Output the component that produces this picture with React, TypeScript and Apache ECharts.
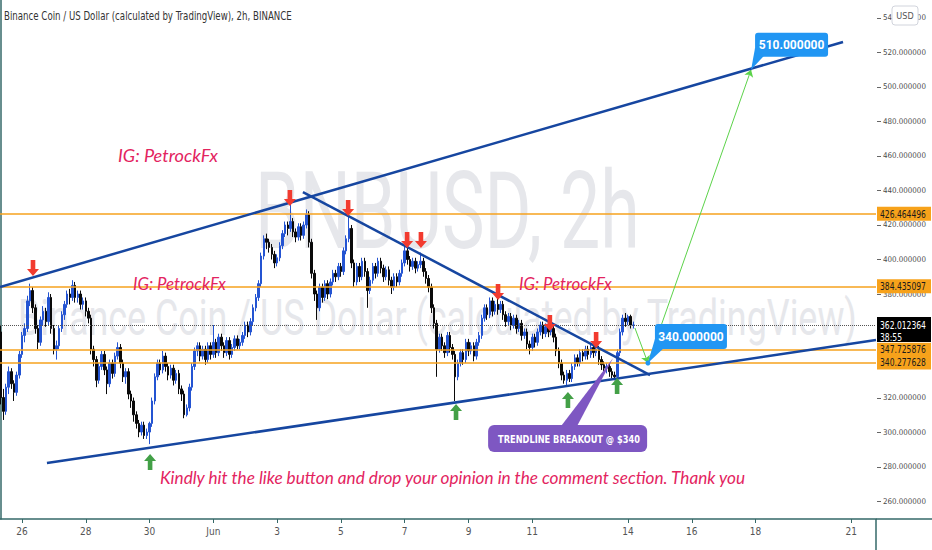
import React, { useEffect, useRef } from 'react';
import * as echarts from 'echarts';

const W = 932;
const H = 550;

// x values are 2h candle indices (candle 0 = 25 May 08:00)
const dateTicks = [8, 32, 56, 80, 104, 128, 152, 176, 200, 236, 260, 284, 320];
const dateLabels = ['26', '28', '30', 'Jun', '3', '5', '7', '9', '11', '14', '16', '18', '21'];
const priceTicks = [260, 280, 300, 320, 340, 360, 380, 400, 420, 440, 460, 480, 500, 520, 540];

// [open, close, low, high]
const candles: number[][] = [
  [358, 320, 316, 362], [320, 312, 307, 325], [312, 326, 310, 328], [326, 335, 322, 338], [335, 328, 325, 337],
  [328, 323, 318, 330], [323, 333, 321, 335], [333, 345, 331, 347], [345, 356, 343, 358], [356, 360, 352, 363],
  [360, 376, 358, 379], [376, 382, 373, 386], [382, 372, 369, 384], [372, 360, 357, 374], [360, 352, 348, 362],
  [352, 365, 350, 367], [365, 370, 362, 373], [370, 364, 361, 372], [364, 378, 362, 381], [378, 360, 357, 380],
  [360, 348, 345, 362], [348, 350, 342, 353], [350, 360, 348, 362], [360, 368, 358, 370], [368, 374, 365, 376],
  [374, 380, 372, 382], [380, 378, 374, 383], [378, 385, 376, 388], [385, 378, 375, 387], [378, 380, 375, 382],
  [380, 374, 371, 382], [374, 376, 371, 378], [376, 370, 367, 378], [370, 366, 363, 372], [366, 348, 345, 368],
  [348, 342, 338, 350], [342, 330, 326, 344], [330, 338, 328, 340], [338, 345, 336, 347], [345, 336, 333, 347],
  [336, 328, 322, 338], [328, 340, 326, 342], [340, 334, 331, 342], [334, 344, 332, 346], [344, 349, 342, 352],
  [349, 340, 337, 351], [340, 332, 329, 342], [332, 335, 328, 337], [335, 322, 319, 337], [322, 318, 314, 324],
  [318, 310, 306, 320], [310, 305, 302, 312], [305, 300, 297, 307], [300, 304, 298, 306], [304, 298, 296, 306],
  [298, 300, 296, 302], [300, 305, 293, 306], [305, 318, 303, 320], [318, 332, 316, 334], [332, 340, 330, 342],
  [340, 336, 333, 342], [336, 344, 334, 347], [344, 338, 335, 346], [338, 333, 330, 340], [333, 337, 331, 339],
  [337, 330, 327, 339], [330, 334, 328, 336], [334, 325, 322, 336], [325, 322, 318, 327], [322, 310, 308, 324],
  [310, 314, 309, 316], [314, 326, 312, 328], [326, 338, 324, 340], [338, 347, 336, 349], [347, 350, 344, 352],
  [350, 344, 341, 352], [344, 348, 342, 350], [348, 342, 339, 350], [342, 350, 340, 352], [350, 345, 342, 352],
  [345, 352, 343, 362], [352, 346, 343, 354], [346, 355, 344, 357], [355, 350, 347, 357], [350, 346, 343, 352],
  [346, 353, 344, 355], [353, 345, 342, 355], [345, 349, 343, 351], [349, 354, 347, 356], [354, 350, 348, 356],
  [350, 352, 348, 354], [352, 356, 350, 358], [356, 362, 354, 364], [362, 358, 355, 364], [358, 364, 356, 366],
  [364, 372, 362, 374], [372, 378, 370, 380], [378, 386, 376, 388], [386, 402, 384, 404], [402, 412, 400, 414],
  [412, 410, 406, 415], [410, 407, 404, 412], [407, 403, 400, 409], [403, 398, 395, 405], [398, 401, 396, 403],
  [401, 408, 399, 410], [408, 415, 406, 417], [415, 420, 413, 422], [420, 418, 414, 422], [418, 422, 416, 433],
  [422, 416, 413, 424], [416, 413, 410, 418], [413, 419, 411, 421], [419, 414, 411, 421], [414, 420, 412, 422],
  [420, 426, 418, 429], [426, 410, 407, 428], [410, 392, 389, 412], [392, 380, 376, 394], [380, 372, 365, 382],
  [372, 384, 370, 386], [384, 378, 375, 386], [378, 386, 376, 388], [386, 380, 377, 388], [380, 387, 378, 389],
  [387, 392, 385, 394], [392, 390, 387, 394], [390, 396, 388, 398], [396, 393, 390, 398], [393, 405, 391, 407],
  [405, 412, 403, 414], [412, 418, 410, 425], [418, 398, 395, 420], [398, 387, 384, 400], [387, 396, 385, 398],
  [396, 390, 387, 398], [390, 399, 388, 401], [399, 393, 390, 401], [393, 382, 372, 395], [382, 388, 380, 390],
  [388, 396, 386, 398], [396, 392, 389, 398], [392, 399, 390, 401], [399, 395, 392, 401], [395, 390, 387, 397],
  [390, 394, 388, 396], [394, 388, 385, 396], [388, 384, 380, 390], [384, 390, 382, 392], [390, 387, 384, 392],
  [387, 392, 385, 394], [392, 398, 390, 400], [398, 405, 396, 408], [405, 400, 397, 407], [400, 396, 393, 402],
  [396, 399, 394, 401], [399, 395, 392, 401], [395, 397, 393, 399], [397, 399, 395, 404], [399, 393, 390, 401],
  [393, 389, 386, 395], [389, 384, 381, 391], [384, 372, 369, 386], [372, 363, 360, 374], [363, 348, 332, 365],
  [348, 355, 346, 357], [355, 350, 347, 357], [350, 346, 343, 352], [346, 356, 344, 358], [356, 349, 346, 358],
  [349, 345, 342, 351], [345, 332, 318, 347], [332, 340, 330, 342], [340, 346, 338, 348], [346, 342, 339, 348],
  [342, 352, 340, 354], [352, 347, 344, 354], [347, 350, 345, 352], [350, 344, 341, 352], [344, 352, 342, 354],
  [352, 356, 350, 358], [356, 366, 354, 368], [366, 372, 364, 374], [372, 368, 365, 374], [368, 376, 366, 378],
  [376, 370, 367, 378], [370, 374, 368, 376], [374, 371, 368, 379], [371, 374, 369, 376], [374, 368, 365, 376],
  [368, 364, 361, 370], [364, 367, 362, 369], [367, 362, 359, 369], [362, 366, 360, 368], [366, 360, 357, 368],
  [360, 363, 358, 365], [363, 356, 353, 365], [356, 358, 354, 360], [358, 351, 348, 360], [351, 349, 345, 353],
  [349, 355, 347, 357], [355, 352, 349, 357], [352, 358, 350, 360], [358, 362, 356, 364], [362, 357, 354, 364],
  [357, 361, 355, 363], [361, 358, 355, 363], [358, 360, 356, 367], [360, 355, 352, 362], [355, 347, 344, 357],
  [347, 340, 337, 349], [340, 333, 330, 342], [333, 330, 328, 335], [330, 334, 327, 336], [334, 331, 329, 336],
  [331, 338, 329, 340], [338, 343, 336, 345], [343, 340, 338, 345], [340, 346, 338, 348], [346, 344, 341, 348],
  [344, 348, 342, 350], [348, 345, 342, 350], [345, 349, 343, 351], [349, 346, 343, 351], [346, 348, 344, 350],
  [348, 342, 339, 350], [342, 339, 336, 344], [339, 337, 335, 341], [337, 338, 334, 340], [338, 335, 332, 340],
  [335, 333, 331, 337], [333, 332, 330, 335], [332, 346, 331, 348], [346, 358, 344, 360], [358, 366, 356, 368],
  [366, 364, 361, 369], [364, 367, 362, 368], [367, 362, 360, 368], [362, 362.012364, 360, 364],
];

const levels = [426.464496, 384.435097, 347.725876, 340.277628];
const lastPrice = 362.012364;
const countdown = '38:55';

const upperChannel = [[-0.26, 384.1], [316.9, 526.1]];
const lowerChannel = [[17.4, 282.0], [329.3, 353.3]];
const descLine = [[113.7, 439.1], [244.3, 333.0]];
const projection = [[238.6, 360.3], [243.5, 340], [282.3, 510]];
const targetHigh = 510;
const targetLow = 340;
const breakoutTip = [230.4, 342.9];

const redArrows = [
  [12.15, 395.1], [108.8, 435.6], [130.7, 429.8], [152.9, 411.3],
  [158.1, 411.3], [187.1, 381.2], [206.6, 363.2], [224.0, 353.3],
];
const greenArrows = [[56.2, 282.6], [171.3, 311.6], [213.4, 318.6], [231.9, 326.7]];

const NARROW = '"Liberation Sans Narrow", "DejaVu Sans Condensed", Roboto, sans-serif';
const AXIS = '#356868';
const TREND = '#1646a0';
const ORANGE = '#f6a21e';
const PINK = '#e3245f';

const DOWN_ARROW = 'path://M4,0L9,0L9,9L13,9L6.5,16L0,9L4,9Z';
const UP_ARROW = 'path://M6.5,0L13,7L9,7L9,16L4,16L4,7L0,7Z';

let ctx: CanvasRenderingContext2D | null = null;
function measure(text: string, font: string): number {
  if (!ctx) ctx = document.createElement('canvas').getContext('2d');
  ctx!.font = font;
  return ctx!.measureText(text).width || 1;
}

function fitText(text: string, font: string, left: number, width: number, cy: number, fill: string, z = 1) {
  return {
    type: 'text',
    x: left,
    y: cy,
    z,
    scaleX: width / measure(text, font),
    silent: true,
    style: { text, font, fill, align: 'left', verticalAlign: 'middle', textAlign: 'left', textVerticalAlign: 'middle' },
  };
}

function centerText(text: string, font: string, cx: number, cy: number, fill: string, z = 20) {
  return {
    type: 'text',
    x: cx,
    y: cy,
    z,
    silent: true,
    style: { text, font, fill, align: 'center', verticalAlign: 'middle', textAlign: 'center', textVerticalAlign: 'middle' },
  };
}

function buildOption(yLabelSize: number) {
  return {
    animation: false,
    backgroundColor: '#ffffff',
    grid: { left: 0, right: 56, top: 0, bottom: 31, containLabel: false, outerBoundsMode: 'none' },
    xAxis: {
      type: 'value',
      min: -0.263,
      max: 329.3,
      splitLine: { show: false },
      axisLine: { show: true, onZero: false, lineStyle: { color: AXIS, width: 1.5 } },
      axisTick: { show: true, customValues: dateTicks, length: 4, lineStyle: { color: AXIS } },
      axisLabel: {
        customValues: dateTicks,
        formatter: (v: number) => {
          const k = dateTicks.indexOf(v);
          return k >= 0 ? dateLabels[k] : '';
        },
        color: '#555',
        fontSize: 10,
        fontFamily: NARROW,
        margin: 7,
      },
    },
    yAxis: {
      type: 'value',
      position: 'right',
      min: 249.6,
      max: 550.4,
      splitLine: { show: false },
      axisLine: { show: true, lineStyle: { color: AXIS, width: 1.5 } },
      axisTick: { show: false },
      axisLabel: {
        customValues: priceTicks,
        formatter: (v: number) => v.toFixed(6),
        color: '#4a4a4a',
        fontSize: yLabelSize,
        fontFamily: NARROW,
        margin: 7,
      },
    },
    series: [
      {
        type: 'candlestick',
        data: candles.map((c, i) => [i, c[0], c[1], c[2], c[3]]),
        barWidth: 2,
        z: 2,
        itemStyle: {
          color: '#2454d2',
          color0: '#0a0a0a',
          borderColor: '#2454d2',
          borderColor0: '#0a0a0a',
          borderWidth: 1,
        },
      },
      {
        type: 'line',
        data: [],
        silent: true,
        z: 4,
        markLine: {
          silent: true,
          symbol: 'none',
          label: { show: false },
          emphasis: { disabled: true },
          data: [
            ...levels.map((v) => ({ yAxis: v, lineStyle: { color: ORANGE, width: 1.5, type: 'solid' } })),
            { yAxis: lastPrice, lineStyle: { color: '#555', width: 1, type: 'dotted' } },
          ],
        },
      },
      ...[upperChannel, lowerChannel, descLine].map((seg) => ({
        type: 'line',
        data: seg,
        showSymbol: false,
        silent: true,
        z: 5,
        lineStyle: { color: TREND, width: 2.5 },
      })),
      {
        type: 'line',
        data: [],
        silent: true,
        z: 6,
        markLine: {
          silent: true,
          symbol: ['none', 'arrow'],
          symbolSize: 7,
          label: { show: false },
          emphasis: { disabled: true },
          lineStyle: { color: '#5cd34a', width: 1, type: 'solid' },
          data: [
            [{ coord: projection[0] }, { coord: projection[1] }],
            [{ coord: projection[1] }, { coord: projection[2] }],
          ],
        },
      },
      {
        type: 'scatter',
        data: redArrows,
        symbol: DOWN_ARROW,
        symbolSize: [12, 16],
        silent: true,
        z: 7,
        itemStyle: { color: '#f23b2f', opacity: 1 },
      },
      {
        type: 'scatter',
        data: greenArrows,
        symbol: UP_ARROW,
        symbolSize: [12, 16],
        silent: true,
        z: 7,
        itemStyle: { color: '#43a047', opacity: 1 },
      },
    ],
  };
}

export default function App() {
  const ref = useRef<HTMLDivElement>(null);
  useEffect(() => {
    document.body.style.margin = '0';
    const chart = echarts.init(ref.current!, undefined, { renderer: 'svg' });
    const labelW = measure('520.000000', '10px ' + NARROW);
    const yLabelSize = Math.min(10, Math.floor((10 * 43 / labelW) * 10) / 10);
    chart.setOption(buildOption(yLabelSize) as any);

    const px = (p: number[]) => chart.convertToPixel({ gridIndex: 0 }, p) as number[];
    const axisX = px([329.3, 260])[0];
    const axisY = px([0, 249.6])[1];
    const gx = axisX;
    const g: any[] = [];

    // watermark
    g.push(fitText('BNBUSD, 2h', '108px Roboto', 255, 385, 211, '#e6e7eb', 0));
    g.push(fitText('Binance Coin / US Dollar (calculated by TradingView)', '50px Roboto', 18, 840, 318, '#e6e7eb', 0));

    // axis extensions and price ticks
    g.push({ type: 'line', z: 3, silent: true, shape: { x1: axisX, y1: axisY, x2: axisX, y2: H }, style: { stroke: AXIS, lineWidth: 1.5 } });
    g.push({ type: 'line', z: 3, silent: true, shape: { x1: axisX, y1: axisY, x2: W, y2: axisY }, style: { stroke: AXIS, lineWidth: 1.5 } });
    priceTicks.forEach((v) => {
      const y = Math.round(px([0, v])[1]) + 0.5;
      g.push({ type: 'line', z: 3, silent: true, shape: { x1: axisX + 1, y1: y, x2: axisX + 5, y2: y }, style: { stroke: '#666', lineWidth: 1 } });
    });

    // title
    g.push(fitText('Binance Coin / US Dollar (calculated by TradingView), 2h, BINANCE', '12px ' + NARROW, 4, 288, 16, '#333', 20));

    // notes
    const ig = 'IG: PetrockFx';
    const italic = 'italic 18px Lato';
    g.push(fitText(ig, italic, 118, 100, 155, PINK, 20));
    g.push(fitText(ig, italic, 133, 93, 283, PINK, 20));
    g.push(fitText(ig, italic, 519, 93, 283, PINK, 20));
    g.push(fitText('Kindly hit the like button and drop your opinion in the comment section. Thank you', italic, 160, 588, 477, PINK, 20));

    // right axis price boxes
    levels.forEach((v) => {
      const y = px([0, v])[1];
      g.push({ type: 'rect', z: 20, silent: true, shape: { x: gx + 1, y: y - 7, width: 54, height: 14 }, style: { fill: '#f7a21b' } });
      g.push(fitText(v.toFixed(6), '10px ' + NARROW, gx + 4, 46, y, '#1a1a1a', 21));
    });
    const ly = px([0, lastPrice])[1];
    g.push({ type: 'rect', z: 22, silent: true, shape: { x: gx + 1, y: ly - 8, width: 54, height: 25 }, style: { fill: '#000' } });
    g.push(fitText(lastPrice.toFixed(6), '10px ' + NARROW, gx + 4, 46, ly, '#fff', 23));
    g.push(fitText(countdown, '10px ' + NARROW, gx + 4, 22, ly + 12, '#fff', 23));

    // USD button
    g.push({ type: 'rect', z: 24, silent: true, shape: { x: 892, y: 6, width: 26, height: 19, r: 3 }, style: { fill: '#fff', stroke: '#d1d4dc', lineWidth: 1 } });
    g.push(centerText('USD', '9px ' + NARROW, 905, 15.5, '#555', 25));

    // 510 callout
    const t1 = px([projection[2][0], targetHigh]);
    g.push({ type: 'polygon', z: 20, silent: true, shape: { points: [[t1[0], t1[1]], [t1[0] + 4, t1[1] - 22], [t1[0] + 13, t1[1] - 14]] }, style: { fill: '#2196f3' } });
    g.push({ type: 'rect', z: 20, silent: true, shape: { x: t1[0] + 4, y: t1[1] - 37, width: 73, height: 24, r: 3 }, style: { fill: '#2196f3' } });
    g.push(centerText(targetHigh.toFixed(6), 'bold 12px Roboto', t1[0] + 40.5, t1[1] - 25, '#fff', 21));

    // 340 callout
    const t2 = px([projection[1][0], targetLow]);
    g.push({ type: 'polygon', z: 20, silent: true, shape: { points: [[t2[0], t2[1]], [t2[0] + 7, t2[1] - 24], [t2[0] + 17, t2[1] - 16]] }, style: { fill: '#2196f3' } });
    g.push({ type: 'rect', z: 20, silent: true, shape: { x: t2[0] + 7, y: t2[1] - 39, width: 72, height: 25, r: 3 }, style: { fill: '#2196f3' } });
    g.push({ type: 'circle', z: 21, silent: true, shape: { cx: t2[0], cy: t2[1], r: 2.5 }, style: { fill: '#2196f3' } });
    g.push(centerText(targetLow.toFixed(6), 'bold 12px Roboto', t2[0] + 43, t2[1] - 26.5, '#fff', 21));

    // breakout callout
    const t3 = px(breakoutTip);
    g.push({ type: 'polygon', z: 20, silent: true, shape: { points: [[t3[0], t3[1]], [t3[0] - 52, t3[1] + 68], [t3[0] - 36, t3[1] + 68]] }, style: { fill: '#7e57c2' } });
    g.push({ type: 'rect', z: 20, silent: true, shape: { x: t3[0] - 125, y: t3[1] + 67, width: 159, height: 27, r: 6 }, style: { fill: '#7e57c2' } });
    g.push(fitText('TRENDLINE BREAKOUT @ $340', 'bold 11px ' + NARROW, t3[0] - 115, 142, t3[1] + 81, '#fff', 21));

    chart.setOption({ graphic: g } as any);
    return () => chart.dispose();
  }, []);
  return <div ref={ref} style={{ position: 'absolute', left: 0, top: 0, width: W, height: H }} />;
}
